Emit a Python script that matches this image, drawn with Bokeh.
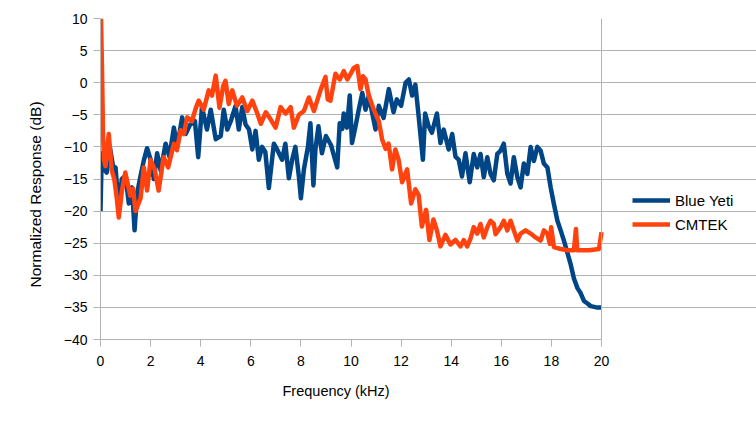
from bokeh.plotting import figure
from bokeh.models import Legend, LegendItem, FixedTicker, Range1d, Span, Title
from bokeh.embed import file_html
from bokeh.resources import INLINE

# ---- data (kHz, dB) ----
yeti_freq = [0.0, 0.05, 0.15, 0.25, 0.37, 0.5, 0.6, 0.73, 0.85, 1.0, 1.13, 1.26, 1.36, 1.46, 1.6,
             1.73, 1.86, 2.0, 2.13, 2.26, 2.4, 2.6, 2.75, 2.93, 3.06, 3.26, 3.4, 3.57, 3.77, 3.9,
             4.05, 4.25, 4.4, 4.6, 4.8, 4.92, 5.06, 5.2, 5.39, 5.52, 5.66, 5.79, 5.93, 6.06, 6.19,
             6.32, 6.45, 6.58, 6.72, 6.92, 7.05, 7.25, 7.38, 7.52, 7.65, 7.78, 7.92, 8.0, 8.12,
             8.28, 8.38, 8.5, 8.58, 8.7, 8.84, 9.0, 9.2, 9.45, 9.55, 9.65, 9.71, 9.84, 9.95, 10.04,
             10.18, 10.31, 10.45, 10.58, 10.71, 10.84, 10.98, 11.11, 11.3, 11.51, 11.7, 11.83, 12.0,
             12.18, 12.31, 12.44, 12.57, 12.7, 12.87, 12.96, 13.1, 13.23, 13.43, 13.57, 13.7, 13.9,
             14.04, 14.17, 14.3, 14.43, 14.57, 14.74, 14.9, 15.04, 15.17, 15.3, 15.44, 15.57, 15.7,
             15.84, 15.97, 16.1, 16.24, 16.37, 16.5, 16.64, 16.77, 16.9, 17.04, 17.17, 17.3, 17.44,
             17.57, 17.7, 17.84, 17.97, 18.1, 18.24, 18.37, 18.5, 18.64, 18.77, 18.9, 19.04, 19.17,
             19.3, 19.44, 19.57, 19.8, 20.0]
yeti_db = [-20, -11, -13.5, -14, -10, -13, -13.2, -19.6, -15, -14.5, -18.8, -16.3, -23, -17.3, -14.5,
           -12.1, -10.2, -12, -15, -11, -13.7, -9.5, -11.5, -7, -10, -5.4, -8, -6.6, -6, -11.6,
           -3.8, -7.3, -4.2, -8.8, -8.3, -4.2, -7.3, -6, -3.6, -7.3, -3.8, -6.5, -7.3, -10.4, -7.5,
           -12, -10, -10.8, -16.4, -9.5, -10.4, -12, -9.5, -14.9, -12, -10, -14.6, -18, -13.5,
           -10, -6.3, -16, -10.4, -6.8, -11, -8.3, -9.7, -13.2, -6.3, -7.2, -4.8, -7, -2, -9.4,
           -6.8, -4.2, -1.6, -4.2, -2, -4.6, -7.3, -3.6, -5.5, -1, -4.6, -2.6, -3.6,
           0, 0.5, -2, -0.3, -5.2, -12, -4.8, -6.8, -7.8, -4.8, -9.4, -7.3, -10.4,
           -8, -11.5, -12, -14.6, -11, -15.5, -11.1, -13.2, -11.1, -14.7, -11.6, -14.2, -15.2,
           -11.1, -10.6, -9.5, -14.2, -15.7, -11.6, -14.7, -16.3, -12.6, -14.2, -10, -12.2, -10,
           -10.6, -12.6, -13.2, -16.3, -18.9, -21.5, -23, -24.6, -26.5, -28.3, -30.5, -32, -32.8,
           -34, -34.4, -34.8, -35, -35]

cmtek_freq = [0.02, 0.06, 0.1, 0.14, 0.2, 0.33, 0.45, 0.55, 0.65, 0.73, 0.85, 0.93, 0.99, 1.1, 1.19,
              1.3, 1.4, 1.5, 1.6, 1.73, 1.86, 2.0, 2.16, 2.32, 2.52, 2.7, 2.93, 3.05, 3.2, 3.33,
              3.46, 3.65, 3.8, 3.92, 4.12, 4.32, 4.45, 4.6, 4.75, 4.9, 4.99, 5.12, 5.26, 5.45, 5.66,
              5.86, 6.06, 6.26, 6.4, 6.6, 6.79, 6.99, 7.19, 7.39, 7.59, 7.72, 7.92, 8.12, 8.32,
              8.52, 8.78, 8.98, 9.07, 9.18, 9.38, 9.55, 9.71, 9.85, 10.0, 10.11, 10.25, 10.38,
              10.48, 10.58, 10.71, 10.91, 11.11, 11.24, 11.38, 11.5, 11.64, 11.77, 11.9, 12.04,
              12.24, 12.4, 12.57, 12.7, 12.83, 13.0, 13.13, 13.29, 13.43, 13.57, 13.77, 13.97,
              14.17, 14.37, 14.5, 14.64, 14.77, 14.9, 15.04, 15.17, 15.3, 15.44, 15.57, 15.7,
              15.77, 15.97, 16.1, 16.24, 16.37, 16.5, 16.64, 16.77, 16.97, 17.17, 17.37, 17.57,
              17.7, 17.84, 17.94, 17.99, 18.1, 18.37, 18.64, 18.9, 18.98, 19.03, 19.1, 19.5, 19.9,
              20.0]
cmtek_db = [10, 2, -8, -12, -13, -8, -13.7, -15, -18, -21, -17, -15.2, -14, -16, -17.6,
            -16.5, -20, -19, -18, -13.2, -16.8, -12, -13.5, -16.8, -11.6, -13.2, -9.5, -10.5, -7.4, -8,
            -5.4, -6, -4, -2.8, -4.2, -1.2, -2, 1.1, -3.9, -0.5, 0.3, -3.3, -1.2, -3.6, -2.3,
            -4.4, -2.8, -4.8, -6.4, -4.6, -5.7, -7, -3.8, -4.8, -3.8, -7, -5, -4.4, -2.3,
            -4.4, -1.2, 0.9, -2.6, -2.8, 1.4, 0.5, 1.8, 0.5, 1.5, 2.3, 2.6, -1,
            1, 0.5, -2, -4.2, -6, -8.8, -10.3, -9.5, -13.5, -10.4, -12, -15.5,
            -13.5, -18.8, -16.6, -17.5, -22.4, -19.8, -24.5, -21.3, -23, -25.5, -23.7, -25.2,
            -24.5, -25.5, -24.5, -25.5, -24.3, -22.5, -23.5, -22, -24.1, -22.5, -21.5, -22,
            -23.6, -22.5, -21.5, -23, -21.5, -23, -24.6, -23.5, -23, -23.5, -24.1, -24.6,
            -23, -23.5, -25.1, -22.5, -25.6, -25.9, -26.1, -26.1, -22.8, -26.1, -26.1, -26.1, -25.9,
            -23.3]

x_ticks = [0, 2, 4, 6, 8, 10, 12, 14, 16, 18, 20]
y_ticks = [-40, -35, -30, -25, -20, -15, -10, -5, 0, 5, 10]
x_min, x_max = 0, 20
y_min, y_max = -40, 10
x_title = "Frequency (kHz)"
y_title = "Normalized Response (dB)"

FONT = "Liberation Sans"
GRID = "#b3b3b3"
BLUE = "#004586"
ORANGE = "#ff420e"

# frame spans page x 100..756; data area 0..20 kHz occupies 501 px of it
FRAME_W = 656
DATA_W = 501
x_end = x_max * FRAME_W / DATA_W

p = figure(width=756, height=417, output_backend="svg", toolbar_location=None,
           x_range=Range1d(x_min, x_end), y_range=Range1d(y_min, y_max),
           min_border_left=100, min_border_right=0, min_border_top=18, min_border_bottom=78)
p.background_fill_color = "white"
p.border_fill_color = "white"
p.outline_line_color = None

r1 = p.line(yeti_freq, yeti_db, line_color=BLUE, line_width=4.5, line_join="round")
r2 = p.line(cmtek_freq, cmtek_db, line_color=ORANGE, line_width=4.5, line_join="round")

p.xgrid.visible = False
p.ygrid.grid_line_color = GRID
p.ygrid.ticker = FixedTicker(ticks=y_ticks)
p.ygrid.bounds = (x_min, x_max)

# right border of the plot area
p.add_layout(Span(location=x_max, dimension="height", line_color=GRID, line_width=1))

for ax in (p.xaxis[0], p.yaxis[0]):
    ax.axis_line_color = GRID
    ax.major_tick_line_color = GRID
    ax.major_tick_out = 7
    ax.major_tick_in = 0
    ax.minor_tick_line_color = None
    ax.major_label_text_font = FONT
    ax.major_label_text_font_size = "14px"
    ax.major_label_text_color = "black"

p.xaxis.bounds = (x_min, x_max)
p.xaxis.ticker = FixedTicker(ticks=x_ticks)
p.yaxis.ticker = FixedTicker(ticks=y_ticks)
p.xaxis.major_label_standoff = 9
p.yaxis.major_label_standoff = 6

# axis titles placed like the reference (not centred on the whole frame)
xt = Title(text=x_title, align="left", offset=182, standoff=25,
           text_font=FONT, text_font_size="14.5px", text_font_style="normal", text_color="black")
p.add_layout(xt, "below")
yt = Title(text=y_title, align="left", offset=52, standoff=33,
           text_font=FONT, text_font_size="15.5px", text_font_style="normal", text_color="black")
p.add_layout(yt, "left")

legend = Legend(items=[LegendItem(label="Blue Yeti", renderers=[r1]),
                       LegendItem(label="CMTEK", renderers=[r2])],
                location=(532, 105))
legend.border_line_color = None
legend.background_fill_alpha = 0
legend.padding = 0
legend.margin = 0
legend.spacing = 4
legend.glyph_width = 38
legend.glyph_height = 20
legend.label_height = 20
legend.label_standoff = 5
legend.label_text_font = FONT
legend.label_text_font_size = "15px"
legend.label_text_color = "black"
p.add_layout(legend, "center")

open("out.html", "w").write(file_html(p, INLINE))
